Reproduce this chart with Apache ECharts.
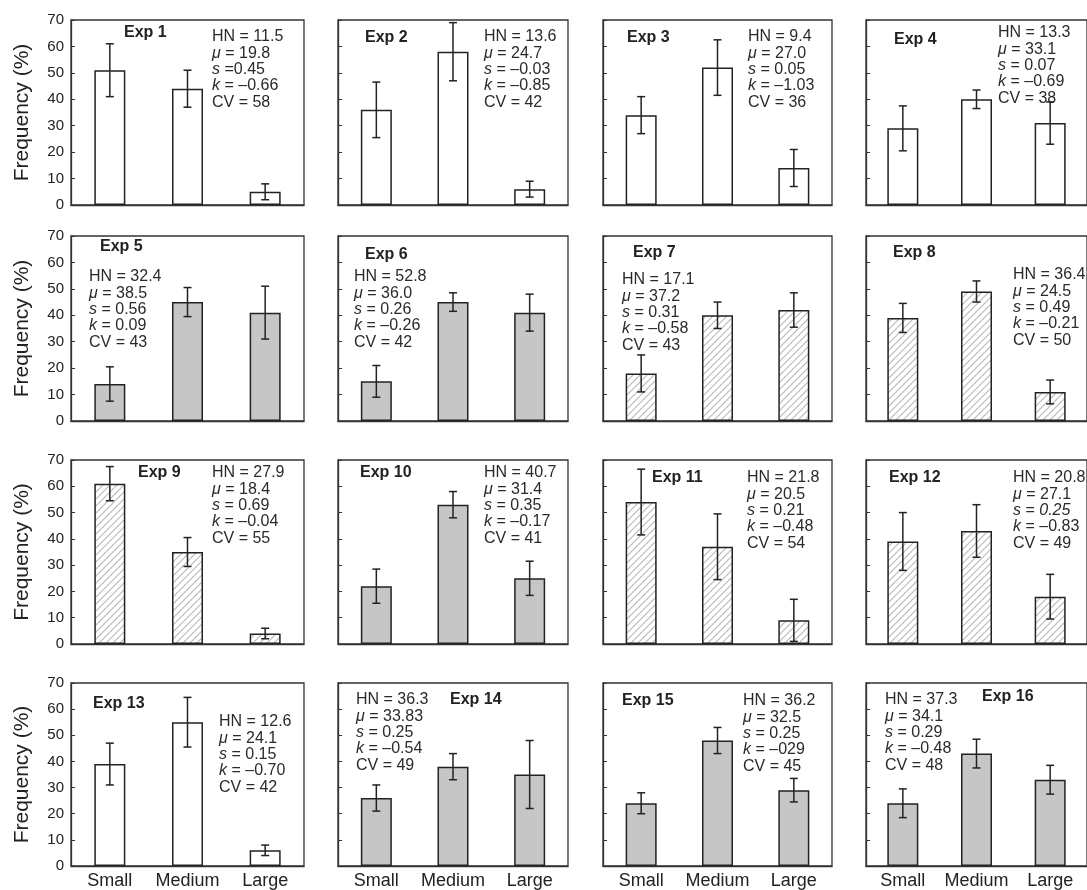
<!DOCTYPE html>
<html>
<head>
<meta charset="utf-8">
<script src="https://cdn.jsdelivr.net/npm/echarts@6/dist/echarts.min.js"></script>
<style>
  html, body { margin: 0; padding: 0; background: #fff; }
  #chart { width: 1087px; height: 890px; }
</style>
</head>
<body>
<div id="chart"></div>
<script>
// Size classes on the x axis
const categories = ['Small', 'Medium', 'Large'];
const yTicks = [0, 10, 20, 30, 40, 50, 60, 70];

// Panel titles
const expNames = ['Exp 1', 'Exp 2', 'Exp 3', 'Exp 4', 'Exp 5', 'Exp 6', 'Exp 7', 'Exp 8',
  'Exp 9', 'Exp 10', 'Exp 11', 'Exp 12', 'Exp 13', 'Exp 14', 'Exp 15', 'Exp 16'];

// Mean frequency (%) per size class, one row per experiment
const freq = [
  [51, 44, 5], [36, 58, 6], [34, 52, 14], [29, 40, 31],
  [14, 45, 41], [15, 45, 41], [18, 40, 42], [39, 49, 11],
  [61, 35, 4], [22, 53, 25], [54, 37, 9], [39, 43, 18],
  [39, 55, 6], [26, 38, 35], [24, 48, 29], [24, 43, 33]
];

// Half-length of the error bars
const errs = [
  [10, 7, 3], [10.5, 11, 3], [7, 10.5, 7], [8.5, 3.5, 8],
  [6.5, 5.5, 10], [6, 3.5, 7], [7, 5, 6.5], [5.5, 4, 4.5],
  [6.5, 5.5, 2], [6.5, 5, 6.5], [12.5, 12.5, 8], [11, 10, 8.5],
  [8, 9.5, 2], [5, 5, 13], [4, 5, 4.5], [5.5, 5.5, 5.5]
];

// Bar fill type per experiment
const fills = ['open', 'open', 'open', 'open', 'grey', 'grey', 'hatch', 'hatch',
  'hatch', 'grey', 'hatch', 'hatch', 'open', 'grey', 'grey', 'grey'];

// Summary statistics: HN, mu, s, k, CV
const statHN = ['11.5', '13.6', '9.4', '13.3', '32.4', '52.8', '17.1', '36.4',
  '27.9', '40.7', '21.8', '20.8', '12.6', '36.3', '36.2', '37.3'];
const statMu = ['19.8', '24.7', '27.0', '33.1', '38.5', '36.0', '37.2', '24.5',
  '18.4', '31.4', '20.5', '27.1', '24.1', '33.83', '32.5', '34.1'];
const statS = ['=0.45', '= \u20130.03', '= 0.05', '= 0.07', '= 0.56', '= 0.26', '= 0.31', '= 0.49',
  '= 0.69', '= 0.35', '= 0.21', '= {i|0.25}', '= 0.15', '= 0.25', '= 0.25', '= 0.29'];
const statK = ['\u20130.66', '\u20130.85', '\u20131.03', '\u20130.69', '0.09', '\u20130.26', '\u20130.58', '\u20130.21',
  '\u20130.04', '\u20130.17', '\u20130.48', '\u20130.83', '\u20130.70', '\u20130.54', '\u2013029', '\u20130.48'];
const statCV = ['58', '42', '36', '38', '43', '42', '43', '50', '55', '41', '54', '49', '42', '49', '45', '48'];

// ---- layout ----
const colLeft = [71, 338, 603, 866];
const colWidth = [233, 230, 229, 229];
const rowTop = [20, 236, 460, 683];
const rowHeight = [185, 185, 184, 184];

// Offsets of the title (x, centre y) and the statistics block (x, first-line centre y) inside each panel
const titlePos = [[53, 13], [27, 18], [24, 18], [28, 20], [29, 11], [27, 19], [30, 17], [27, 17],
  [67, 13], [22, 13], [49, 18], [23, 18], [22, 21], [112, 17], [19, 18], [116, 14]];
const statPos = [[141, 17], [146, 17], [145, 17], [132, 13], [18, 41], [16, 41], [19, 44], [147, 39],
  [141, 13], [146, 13], [144, 18], [147, 18], [148, 39], [18, 17], [140, 18], [19, 17]];

const FONT = 'Liberation Sans, Arial, Helvetica, sans-serif';
const INK = '#222';

// Diagonal hatch tile
function makeHatch() {
  const c = document.createElement('canvas');
  const n = 7;
  c.width = n; c.height = n;
  const g = c.getContext('2d');
  g.fillStyle = '#fff';
  g.fillRect(0, 0, n, n);
  g.strokeStyle = '#b8b8b8';
  g.lineWidth = 1.1;
  g.beginPath();
  g.moveTo(-1, n + 1); g.lineTo(n + 1, -1);
  g.moveTo(-1, 1); g.lineTo(1, -1);
  g.moveTo(n - 1, n + 1); g.lineTo(n + 1, n - 1);
  g.stroke();
  return c;
}
const hatchTile = makeHatch();

function fillColor(type) {
  if (type === 'grey') return '#c6c6c6';
  if (type === 'hatch') return { image: hatchTile, repeat: 'repeat' };
  return '#ffffff';
}

const grids = [], xAxes = [], yAxes = [], series = [], graphics = [];

for (let p = 0; p < 16; p++) {
  const r = Math.floor(p / 4), c = p % 4;
  const left = colLeft[c], top = rowTop[r];
  grids.push({
    left: left, top: top, width: colWidth[c], height: rowHeight[r],
    show: true, borderColor: '#333', borderWidth: 1.3, backgroundColor: 'transparent'
  });
  xAxes.push({
    type: 'category', gridIndex: p, data: categories,
    axisLine: { show: true, lineStyle: { color: '#333', width: 1.3 } },
    axisTick: { show: false },
    axisLabel: { show: r === 3, interval: 0, fontSize: 18, color: INK, fontFamily: FONT, margin: 6 }
  });
  yAxes.push({
    type: 'value', gridIndex: p, min: yTicks[0], max: yTicks[yTicks.length - 1], interval: 10,
    splitLine: { show: false },
    axisLine: { show: true, lineStyle: { color: '#333', width: 1.3 } },
    axisTick: { show: true, inside: true, length: 4, lineStyle: { color: '#333' } },
    axisLabel: { show: c === 0, fontSize: 15, color: INK, fontFamily: FONT, margin: 7 },
    name: c === 0 ? 'Frequency (%)' : '',
    nameLocation: 'middle', nameGap: 38,
    nameTextStyle: { fontSize: 21, color: INK, fontFamily: FONT }
  });
  series.push({
    type: 'bar', xAxisIndex: p, yAxisIndex: p,
    data: freq[p], barWidth: 31,
    itemStyle: { color: fillColor(fills[p]), borderColor: INK, borderWidth: 1.5 },
    silent: true, animation: false
  });
  series.push({
    type: 'custom', xAxisIndex: p, yAxisIndex: p, z: 5,
    data: freq[p].map((v, i) => [i, v - errs[p][i], v + errs[p][i]]),
    renderItem: function (params, api) {
      const i = api.value(0);
      const hi = api.coord([i, api.value(2)]);
      const lo = api.coord([i, api.value(1)]);
      const w = 4;
      const st = { stroke: INK, lineWidth: 1.5 };
      return {
        type: 'group', children: [
          { type: 'line', shape: { x1: hi[0], y1: hi[1], x2: lo[0], y2: lo[1] }, style: st },
          { type: 'line', shape: { x1: hi[0] - w, y1: hi[1], x2: hi[0] + w, y2: hi[1] }, style: st },
          { type: 'line', shape: { x1: lo[0] - w, y1: lo[1], x2: lo[0] + w, y2: lo[1] }, style: st }
        ]
      };
    },
    silent: true, animation: false
  });

  // panel title
  graphics.push({
    type: 'text', x: left + titlePos[p][0], y: top + titlePos[p][1],
    style: {
      text: expNames[p], fontSize: 16, fontWeight: 'bold', fontFamily: FONT, fill: INK,
      verticalAlign: 'middle', align: 'left'
    }, silent: true
  });
  // statistics block
  const lh = 16.3;
  const lines = [
    'HN = ' + statHN[p],
    '{i|\u03bc} = ' + statMu[p],
    '{i|s} ' + statS[p],
    '{i|k} = ' + statK[p],
    'CV = ' + statCV[p]
  ];
  graphics.push({
    type: 'text', x: left + statPos[p][0], y: top + statPos[p][1] - lh / 2,
    style: {
      text: lines.join('\n'), fontSize: 16, fontFamily: FONT, fill: '#2a2a2a',
      lineHeight: lh, verticalAlign: 'top', align: 'left',
      rich: { i: { fontStyle: 'italic', fontSize: 16, fontFamily: FONT, fill: '#2a2a2a', lineHeight: lh } }
    }, silent: true
  });
}

const chart = echarts.init(document.getElementById('chart'), null, { renderer: 'canvas' });
chart.setOption({
  backgroundColor: '#ffffff',
  animation: false,
  grid: grids, xAxis: xAxes, yAxis: yAxes, series: series,
  graphic: graphics
});
</script>
</body>
</html>
